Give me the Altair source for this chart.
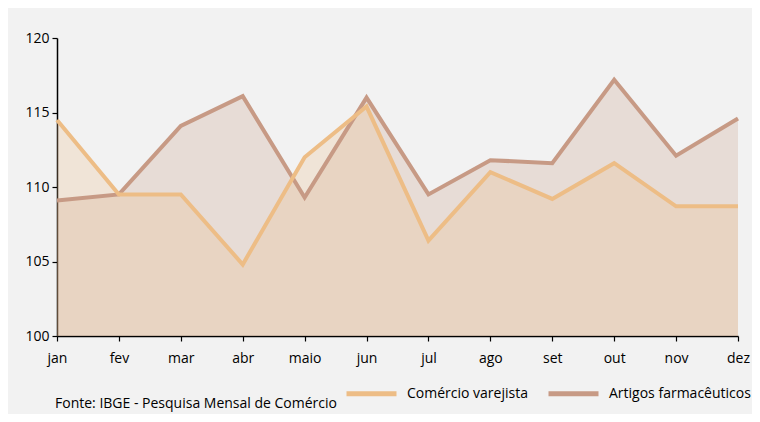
import altair as alt
import pandas as pd

months = ["jan", "fev", "mar", "abr", "maio", "jun", "jul", "ago", "set", "out", "nov", "dez"]
comercio = [114.5, 109.5, 109.5, 104.8, 112.0, 115.4, 106.4, 111.0, 109.2, 111.6, 108.7, 108.7]
artigos = [109.1, 109.5, 114.1, 116.1, 109.3, 116.0, 109.5, 111.8, 111.6, 117.2, 112.1, 114.6]
series_names = ["Comércio varejista", "Artigos farmacêuticos"]
colors = ["#edbd86", "#c79a85"]
source = "Fonte: IBGE - Pesquisa Mensal de Comércio"

df = pd.concat([
    pd.DataFrame({"mes": months, "valor": comercio, "serie": series_names[0]}),
    pd.DataFrame({"mes": months, "valor": artigos, "serie": series_names[1]}),
])

FONT = "Open Sans"

x = alt.X("mes:N", sort=months, scale=alt.Scale(type="point", padding=0),
          axis=alt.Axis(title=None, labelAngle=0, domainColor="#000", tickColor="#000",
                        domainWidth=1.5, tickWidth=1.2, tickSize=5, labelPadding=10,
                        labelFontSize=14, labelColor="#000", labelFont=FONT, grid=False))
y = alt.Y("valor:Q", scale=alt.Scale(domain=[100, 120], zero=False, nice=False),
          axis=alt.Axis(title=None, values=[100, 105, 110, 115, 120], domainColor="#000",
                        tickColor="#000", domainWidth=1.5, tickWidth=1.2, tickSize=5,
                        labelPadding=3, labelFontSize=14, labelColor="#000", labelFont=FONT,
                        grid=False))
color = alt.Color("serie:N", scale=alt.Scale(domain=series_names, range=colors),
                  legend=alt.Legend(title=None, orient="none", direction="horizontal",
                                    legendX=287, legendY=328, symbolType="stroke",
                                    symbolStrokeWidth=5, symbolSize=2500, labelFontSize=14,
                                    labelFont=FONT, labelColor="#000", labelOffset=8,
                                    columnPadding=10, symbolOpacity=1))

base = alt.Chart(df)

def only(name):
    return base.transform_filter(alt.datum.serie == name)

area_b = only(series_names[1]).mark_area(opacity=0.25).encode(x=x, y=y, y2=alt.datum(100), color=color)
area_o = only(series_names[0]).mark_area(opacity=0.25).encode(x=x, y=y, y2=alt.datum(100), color=color)
line_b = only(series_names[1]).mark_line(strokeWidth=4).encode(x=x, y=y, color=color)
line_o = only(series_names[0]).mark_line(strokeWidth=4).encode(x=x, y=y, color=color)

chart = alt.layer(area_b, area_o, line_b, line_o).properties(
    width=681, height=298,
    autosize=alt.AutoSizeParams(type="none"),
    padding={"left": 49, "top": 30, "right": 14, "bottom": 78},
    title=alt.TitleParams(source, orient="top", anchor="start", frame="group", fontSize=14,
                          fontWeight="normal", font=FONT, color="#000", baseline="alphabetic",
                          offset=0, dx=-2, dy=391),
).configure(background="#f2f2f2").configure_view(stroke=None)

chart.save("out.html", embed_options={"renderer": "svg", "actions": False})
